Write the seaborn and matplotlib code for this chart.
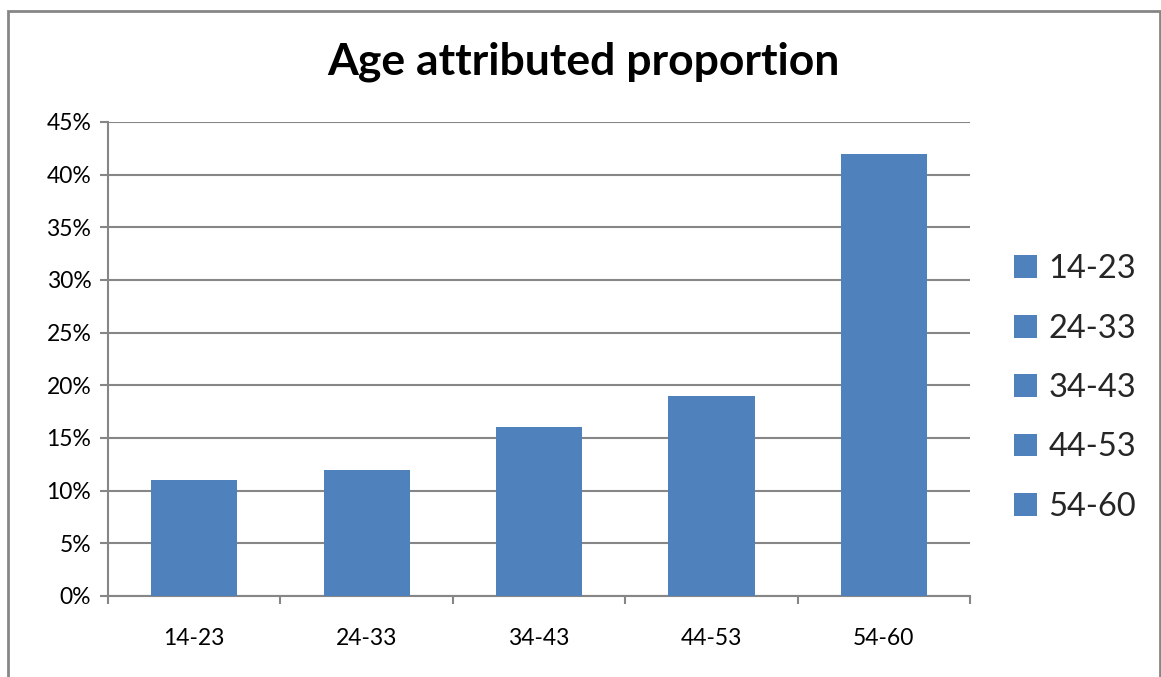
import matplotlib
matplotlib.use("Agg")
import matplotlib.pyplot as plt
import seaborn as sns
import pandas as pd
from matplotlib.patches import Rectangle, Patch
from matplotlib.ticker import FuncFormatter, FixedLocator

# Data
age_groups = ["14-23", "24-33", "34-43", "44-53", "54-60"]
proportions = [0.11, 0.12, 0.16, 0.19, 0.42]
y_ticks = [0.0, 0.05, 0.10, 0.15, 0.20, 0.25, 0.30, 0.35, 0.40, 0.45]

bar_color = "#4F81BD"
grid_color = "#868686"

sns.set_theme(style="white")
plt.rcParams["font.family"] = ["Lato", "DejaVu Sans"]

df = pd.DataFrame({"age": age_groups, "share": proportions})

fig = plt.figure(figsize=(11.61, 6.77), dpi=100)
ax = fig.add_axes([108 / 1161, 81 / 677, 862 / 1161, 474 / 677])

sns.barplot(data=df, x="age", y="share", hue="age",
            palette=[bar_color] * len(age_groups), width=0.5,
            saturation=1, legend=False, ax=ax, zorder=3,
            linewidth=0, edgecolor="none")

ax.set_ylim(0, 0.45)
ax.set_xlim(-0.5, len(age_groups) - 0.5)
ax.yaxis.set_major_locator(FixedLocator(y_ticks))
ax.yaxis.set_major_formatter(FuncFormatter(lambda v, p: f"{v * 100:.0f}%"))
ax.grid(axis="y", color=grid_color, linewidth=1.5, zorder=0)
ax.set_axisbelow(True)

for side in ["top", "right"]:
    ax.spines[side].set_visible(False)
for side in ["left", "bottom"]:
    ax.spines[side].set_color(grid_color)
    ax.spines[side].set_linewidth(1.5)

ax.tick_params(axis="y", which="major", direction="out", length=6,
               width=1.5, color=grid_color, labelsize=16.5, pad=6,
               left=True)
ax.tick_params(axis="x", which="major", length=0, labelsize=16.5, pad=23)
ax.set_xticks([i - 0.5 for i in range(len(age_groups) + 1)], minor=True)
ax.tick_params(axis="x", which="minor", direction="out", length=6,
               width=1.5, color=grid_color, bottom=True)
ax.set_xlabel("")
ax.set_ylabel("")
for lbl in ax.get_xticklabels() + ax.get_yticklabels():
    lbl.set_color("#000000")

fig.text(583 / 1161, 1 - 62 / 677, "Age attributed proportion",
         ha="center", va="center", fontsize=32, fontweight="bold",
         color="#000000")

handles = [Patch(facecolor=bar_color, edgecolor="none", label=a)
           for a in age_groups]
fig.legend(handles=handles, loc="center left",
           bbox_to_anchor=(1014 / 1161, 1 - 388 / 677), frameon=False,
           fontsize=23.5, handlelength=0.7, handleheight=0.7,
           handletextpad=0.35, labelspacing=0.9, borderaxespad=0,
           borderpad=0)

# Chart area border
fig.patches.append(Rectangle((8 / 1161, -0.1), (1160 - 8) / 1161,
                             1.1 - 11 / 677, transform=fig.transFigure,
                             fill=False, edgecolor=grid_color, linewidth=2))

fig.savefig("out.png", dpi=100)
